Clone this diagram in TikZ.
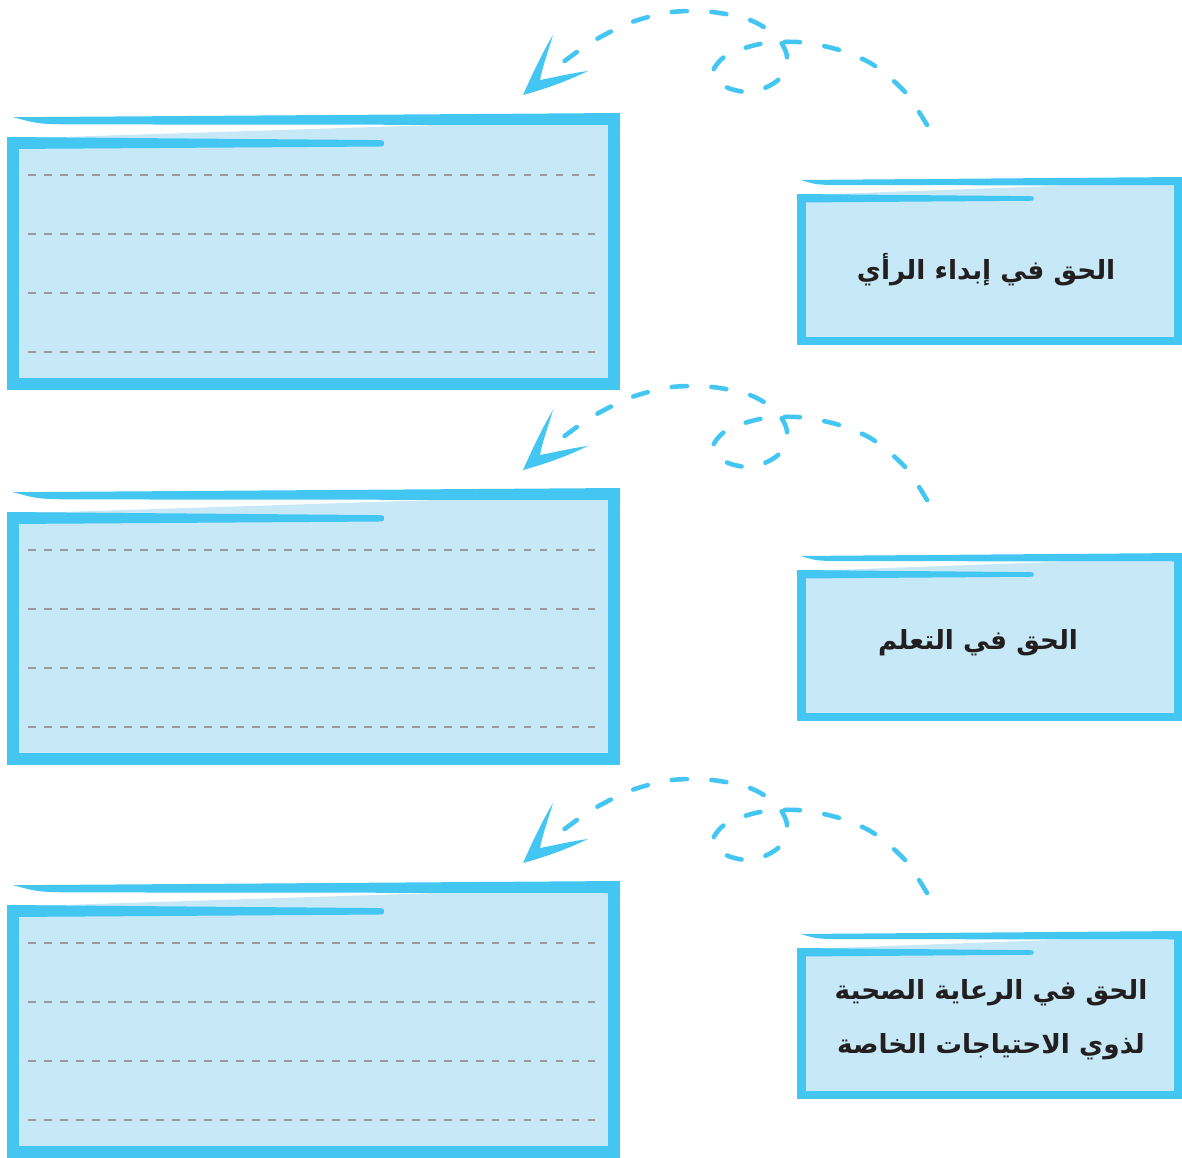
\documentclass[tikz,border=0pt]{standalone}
\usepackage{fontspec}
\newfontfamily\arabicfont[Script=Arabic]{DejaVu Sans}
\TeXXeTstate=1
\definecolor{edgeblue}{HTML}{43C7F2}
\definecolor{paleblue}{HTML}{C6E8F7}
\definecolor{ruleg}{HTML}{9B9B9B}
\definecolor{inkk}{HTML}{231F20}

% card: #1 left, #2 top, #3 width, #4 height, #5 edge
\newcommand{\cardframe}[5]{%
\begin{scope}[shift={(#1,#2)}]
\fill[paleblue] (0,{2*#5}) rectangle (#3,#4);
\fill[paleblue] ({0.03*#3},{2.1*#5}) -- ({0.7*#3},{#5}) -- (#3,{#5}) -- (#3,{2.5*#5}) -- cycle;
\fill[edgeblue] (0,{2*#5}) rectangle (#5,#4);
\fill[edgeblue] (0,{#4-#5}) rectangle (#3,#4);
\fill[edgeblue] ({#3-#5},0) rectangle (#3,#4);
\fill[edgeblue] (#3,0) -- ({0.01*#3},{0.35*#5})
  .. controls ({0.05*#3},{0.9*#5}) .. ({0.1*#3},{0.95*#5}) -- (#3,{#5}) -- cycle;
\fill[edgeblue] (0,{2*#5}) -- ({0.59*#3},{2.25*#5})
  .. controls ({0.615*#3},{2.25*#5}) .. ({0.615*#3},{2.55*#5})
  .. controls ({0.615*#3},{2.8*#5}) .. ({0.59*#3},{2.8*#5})
  -- (0,{3*#5}) -- cycle;
\end{scope}}

\begin{document}
\begin{tikzpicture}[x=0.2mm, y=-0.2mm,
  guide/.style={ruleg, line width=1.3pt, dash pattern=on 4.4pt off 4.7pt},
  loopline/.style={edgeblue, line width=2.6pt, line cap=round, dash pattern=on 8.6pt off 14pt},
  rtext/.style={font=\arabicfont\bfseries\fontsize{15}{30.7}\selectfont, text=inkk, align=center}]
\useasboundingbox (0,0) rectangle (1182,1157);

\foreach \n/\dl/\dr in {1/0/0, 2/375/376, 3/768/754}{
\cardframe{7}{113+\dl}{613}{277}{12}
\cardframe{797}{177+\dr}{385}{168}{8.5}

\foreach \ly in {62,121,180,239}{
\draw[guide] (28,113+\dl+\ly) -- (597,113+\dl+\ly);
}

\begin{scope}[shift={(0,\dl)}]
\coordinate (from\n) at (927,125);
\coordinate (to\n) at (523,95);
\draw[loopline] plot[smooth] coordinates {(from\n) (905,92) (872,64) (836,49) (797,42)
  (760,44) (727,55) (713,72) (726,87) (752,92) (778,80) (787,57) (776,36)
  (750,20) (712,12) (672,12) (632,22) (595,40) (570,57) (553,70)};
\fill[edgeblue] (to\n) .. controls (535,68) and (545,48) .. (553,35)
  .. controls (548,52) and (543,65) .. (540,80)
  .. controls (556,77) and (572,73) .. (588,71)
  .. controls (565,82) and (545,89) .. (to\n) -- cycle;
\end{scope}
}

\node[rtext] (right1) at (986,270) {\beginR الحق في إبداء الرأي\endR};
\node[rtext] (right2) at (978,643) {\beginR الحق في التعلم\endR};
\node[rtext] (right3) at (991,1020) {\beginR الحق في الرعاية الصحية\endR\\
  \beginR لذوي الاحتياجات الخاصة\endR};
\end{tikzpicture}
\end{document}
